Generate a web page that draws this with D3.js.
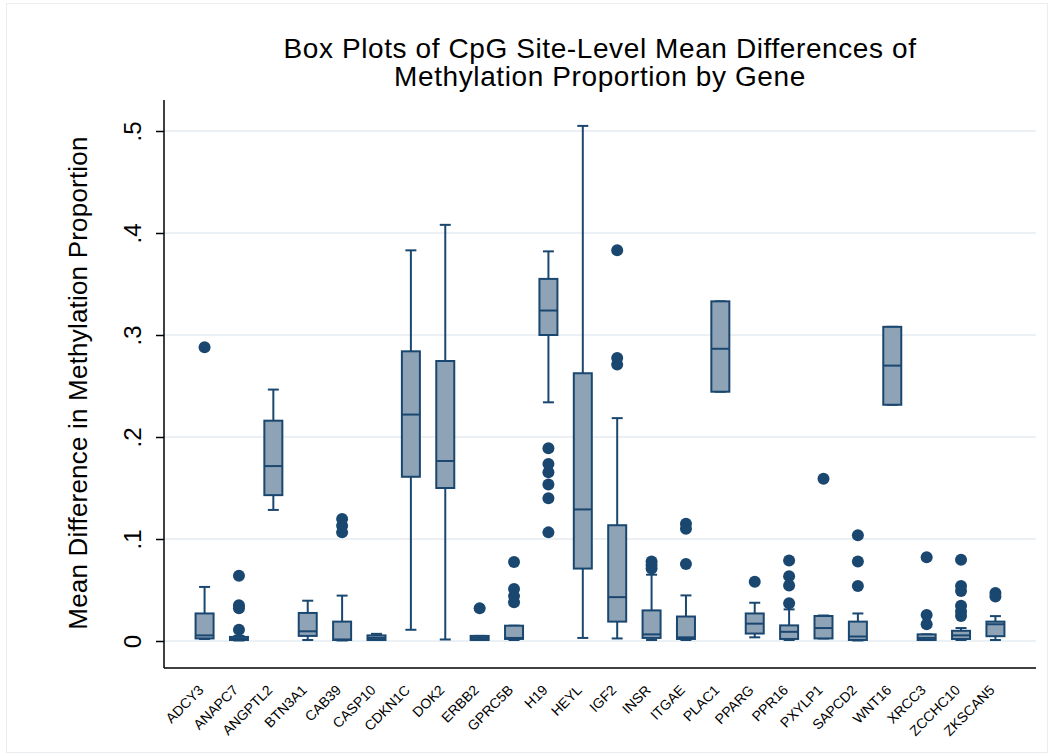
<!DOCTYPE html>
<html>
<head>
<meta charset="utf-8">
<script src="https://cdn.jsdelivr.net/npm/d3@7"></script>
<style>
  body { margin: 0; background: #fff; }
  text { font-family: "Liberation Sans", Arial, Helvetica, sans-serif; }
</style>
</head>
<body>
<div id="chart"></div>
<script>
const width = 1052;
const height = 755;

// gene categories
const genes = ["ADCY3","ANAPC7","ANGPTL2","BTN3A1","CAB39","CASP10","CDKN1C","DOK2","ERBB2","GPRC5B","H19","HEYL","IGF2","INSR","ITGAE","PLAC1","PPARG","PPR16","PXYLP1","SAPCD2","WNT16","XRCC3","ZCCHC10","ZKSCAN5"];

// box statistics
const whiskerLo = [0.002,0.0005,0.1285,0.001,0.0005,0.001,0.011,0.0015,0.001,0.001,0.234,0.003,0.0025,0.001,0.001,0.2444,0.0036,0.001,0.0025,0.0005,0.2316,0.001,0.001,0.001];
const q1s      = [0.0025,0.001,0.143,0.005,0.001,0.001,0.161,0.150,0.001,0.002,0.300,0.071,0.019,0.003,0.002,0.2444,0.0073,0.002,0.0025,0.001,0.2316,0.001,0.002,0.0047];
const medians  = [0.0055,0.002,0.1715,0.0095,0.0015,0.003,0.222,0.1765,0.003,0.003,0.324,0.129,0.043,0.0065,0.0036,0.2865,0.017,0.009,0.0127,0.0044,0.270,0.003,0.0055,0.0164];
const q3s      = [0.027,0.004,0.216,0.0275,0.019,0.0055,0.284,0.2745,0.005,0.015,0.355,0.2625,0.1135,0.030,0.024,0.333,0.027,0.0153,0.0245,0.019,0.308,0.0065,0.010,0.019];
const whiskerHi = [0.053,0.005,0.2465,0.0395,0.0445,0.007,0.383,0.408,0.005,0.015,0.382,0.505,0.2185,0.065,0.0447,0.333,0.0375,0.031,0.025,0.027,0.308,0.0065,0.0127,0.0244];
const outliers = [
  [0.288],
  [0.064,0.035,0.032,0.011],
  [],
  [],
  [0.1195,0.113,0.1065],
  [],
  [],
  [],
  [0.032],
  [0.0775,0.051,0.044,0.038],
  [0.189,0.1735,0.1655,0.1535,0.140,0.1065],
  [],
  [0.383,0.2775,0.271],
  [0.078,0.0745,0.071],
  [0.115,0.110,0.0755],
  [],
  [0.058],
  [0.079,0.0636,0.0545,0.037],
  [0.159],
  [0.1036,0.078,0.054],
  [],
  [0.082,0.0255,0.0164],
  [0.0796,0.054,0.049,0.0345,0.029,0.0244],
  [0.047,0.0436]
];

const yTicks = [0, 0.1, 0.2, 0.3, 0.4, 0.5];
const yTickLabels = ["0", ".1", ".2", ".3", ".4", ".5"];

const navy = "#1a476f";
const boxFill = "#8fa3b7";
const gridColor = "#eaf0f3";

const plotLeft = 164, plotRight = 1036, plotTop = 100, plotBottom = 668;

const svg = d3.select("#chart")
  .append("svg")
  .attr("width", width)
  .attr("height", height);

// outer frame
svg.append("rect")
  .attr("x", 6.5).attr("y", 3.5)
  .attr("width", width - 11).attr("height", height - 6)
  .attr("fill", "#fff")
  .attr("stroke", "#e8eef2")
  .attr("stroke-width", 1);

const x = d3.scalePoint()
  .domain(genes)
  .range([plotLeft, plotRight])
  .padding(1.18);

const y = d3.scaleLinear()
  .domain([0, 0.5])
  .range([641, 131]);

// gridlines
svg.append("g")
  .selectAll("line")
  .data(yTicks)
  .enter()
  .append("line")
  .attr("x1", plotLeft)
  .attr("x2", plotRight)
  .attr("y1", d => y(d))
  .attr("y2", d => y(d))
  .attr("stroke", gridColor)
  .attr("stroke-width", 2);

// y axis
const yAxis = d3.axisLeft(y)
  .tickValues(yTicks)
  .tickFormat((d, i) => yTickLabels[i])
  .tickSize(8)
  .tickSizeOuter(0);

const yg = svg.append("g")
  .attr("transform", `translate(${plotLeft},0)`)
  .call(yAxis);
yg.select(".domain").remove();
yg.selectAll(".tick line").attr("stroke", "#000").attr("stroke-width", 1.5);
yg.selectAll(".tick text")
  .attr("font-size", 24)
  .attr("fill", "#000")
  .attr("text-anchor", "middle")
  .attr("x", null).attr("dy", null)
  .attr("transform", "translate(-23,0) rotate(-90)");

svg.append("line")
  .attr("x1", plotLeft).attr("x2", plotLeft)
  .attr("y1", plotTop).attr("y2", plotBottom)
  .attr("stroke", "#000").attr("stroke-width", 1.5);

// x axis
svg.append("line")
  .attr("x1", plotLeft).attr("x2", plotRight)
  .attr("y1", plotBottom).attr("y2", plotBottom)
  .attr("stroke", "#000").attr("stroke-width", 1.5);

svg.append("g")
  .selectAll("text")
  .data(genes)
  .enter()
  .append("text")
  .attr("transform", d => `translate(${x(d)},${plotBottom + 23}) rotate(-45)`)
  .attr("text-anchor", "end")
  .attr("font-size", 14)
  .attr("fill", "#000")
  .text(d => d);

// boxes
const boxW = 18, capW = 11;
const g = svg.append("g")
  .selectAll("g")
  .data(genes)
  .enter()
  .append("g");

// whiskers
g.append("line")
  .attr("x1", d => x(d)).attr("x2", d => x(d))
  .attr("y1", (d, i) => y(whiskerHi[i]))
  .attr("y2", (d, i) => y(q3s[i]))
  .attr("stroke", navy).attr("stroke-width", 2);
g.append("line")
  .attr("x1", d => x(d)).attr("x2", d => x(d))
  .attr("y1", (d, i) => y(q1s[i]))
  .attr("y2", (d, i) => y(whiskerLo[i]))
  .attr("stroke", navy).attr("stroke-width", 2);
g.append("line")
  .attr("x1", d => x(d) - capW / 2).attr("x2", d => x(d) + capW / 2)
  .attr("y1", (d, i) => y(whiskerHi[i]))
  .attr("y2", (d, i) => y(whiskerHi[i]))
  .attr("stroke", navy).attr("stroke-width", 2);
g.append("line")
  .attr("x1", d => x(d) - capW / 2).attr("x2", d => x(d) + capW / 2)
  .attr("y1", (d, i) => y(whiskerLo[i]))
  .attr("y2", (d, i) => y(whiskerLo[i]))
  .attr("stroke", navy).attr("stroke-width", 2);

g.append("rect")
  .attr("x", d => x(d) - boxW / 2)
  .attr("width", boxW)
  .attr("y", (d, i) => y(q3s[i]))
  .attr("height", (d, i) => Math.max(1, y(q1s[i]) - y(q3s[i])))
  .attr("fill", boxFill)
  .attr("stroke", navy)
  .attr("stroke-width", 2);

g.append("line")
  .attr("x1", d => x(d) - boxW / 2).attr("x2", d => x(d) + boxW / 2)
  .attr("y1", (d, i) => y(medians[i]))
  .attr("y2", (d, i) => y(medians[i]))
  .attr("stroke", navy).attr("stroke-width", 2);

// outliers
g.each(function(d, i) {
  d3.select(this).selectAll("circle")
    .data(outliers[i])
    .enter()
    .append("circle")
    .attr("cx", x(d))
    .attr("cy", v => y(v))
    .attr("r", 6)
    .attr("fill", navy);
});

// titles
const title = svg.append("text")
  .attr("text-anchor", "middle")
  .attr("font-size", 28)
  .attr("letter-spacing", "0.6px")
  .attr("fill", "#000");
title.append("tspan").attr("x", 600).attr("y", 58)
  .text("Box Plots of CpG Site-Level Mean Differences of");
title.append("tspan").attr("x", 600).attr("y", 86)
  .text("Methylation Proportion by Gene");

svg.append("text")
  .attr("transform", "translate(87,383) rotate(-90)")
  .attr("text-anchor", "middle")
  .attr("font-size", 26)
  .attr("letter-spacing", "0.2px")
  .attr("fill", "#000")
  .text("Mean Difference in Methylation Proportion");
</script>
</body>
</html>
